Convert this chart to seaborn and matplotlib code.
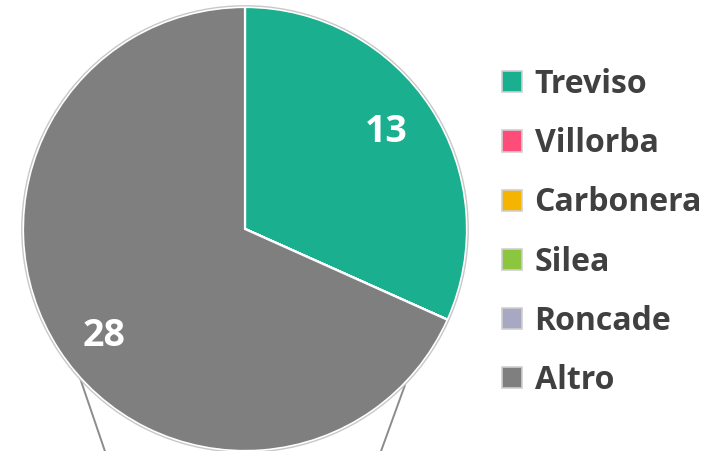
import matplotlib
matplotlib.use("Agg")
import numpy as np
import matplotlib.pyplot as plt
import seaborn as sns
from matplotlib.patches import Patch, Circle

categories = ["Treviso", "Villorba", "Carbonera", "Silea", "Roncade", "Altro"]
values = [13, 0, 0, 0, 0, 28]
colors = ["#1aaf8e", "#ff4d7a", "#f5b400", "#8cc63e", "#a8a8c2", "#7f7f7f"]

sns.set_theme(style="white")
plt.rcParams["font.family"] = ["Open Sans", "DejaVu Sans"]

W, H = 707, 451
fig = plt.figure(figsize=(W / 100, H / 100), dpi=100)
ax = fig.add_axes([0, 0, 1, 1])

cx, cy, R = 245, H - 229, 222
total = sum(values)

# connector lines (pie-of-pie style)
ax.plot([80, 110], [H - 378, H - 466], color="#8c8c8c", lw=1.4, zorder=1)
ax.plot([405, 376], [H - 385, H - 465], color="#8c8c8c", lw=1.4, zorder=1)

wedges, texts, autotexts = ax.pie(
    values, colors=colors, startangle=90, counterclock=False,
    center=(cx, cy), radius=R, pctdistance=0.78,
    autopct=lambda p: f"{round(p * total / 100):.0f}" if p > 0 else "",
    wedgeprops=dict(edgecolor="white", linewidth=1.6),
    textprops=dict(color="white", fontsize=27, fontweight="bold"),
)
for w, t in zip(wedges, autotexts):
    w.set_zorder(2)
    # place label slightly rotated like the original layout
    ang = np.deg2rad((w.theta1 + w.theta2) / 2 + 3)
    t.set_position((cx + 0.785 * R * np.cos(ang), cy + 0.785 * R * np.sin(ang) - 5))
ax.add_patch(Circle((cx, cy), R + 1.2, fill=False, edgecolor="#c8c8c8", lw=1.0, zorder=3))

handles = [Patch(facecolor=c, edgecolor="#cfcfcf", linewidth=1.2) for c in colors]
leg = ax.legend(
    handles, categories, loc="upper left", bbox_to_anchor=(502 / W, 1 - 68 / H),
    frameon=False, fontsize=23, handlelength=0.64, handleheight=0.64,
    handletextpad=0.38, labelspacing=0.82, borderpad=0, borderaxespad=0,
)
for t in leg.get_texts():
    t.set_color("#404040")
    t.set_fontweight("bold")

ax.set_xlim(0, W)
ax.set_ylim(0, H)
ax.set_aspect("auto")
ax.axis("off")
fig.savefig("out.png", dpi=100)
